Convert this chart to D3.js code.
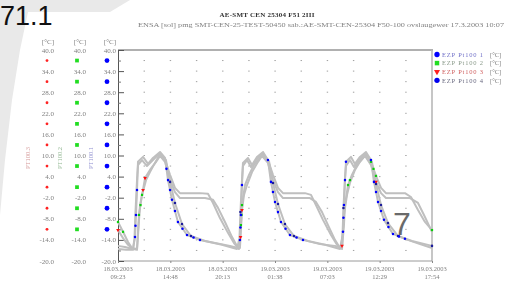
<!DOCTYPE html>
<html>
<head>
<meta charset="utf-8">
<script src="https://cdn.jsdelivr.net/npm/d3@7"></script>
<style>
  body { margin: 0; background: #fff; }
  svg { display: block; }
</style>
</head>
<body>
<div id="chart"></div>
<script>
// titles
const title = "AE-SMT CEN 25304 F51 2III";
const subtitle = "ENSA [sol] pmg SMT-CEN-25-TEST-50450 sab.:AE-SMT-CEN-25304 F50-100 ovslaugewer 17.3.2003 10:07";

// axes (hours since 18.03.2003 09:23, degrees C)
const yTicks = [40, 34, 28, 22, 16, 10, 4, -2, -8, -14, -20];
const xTickHours = [0, 5.42, 10.84, 16.26, 21.68, 27.10, 32.52];
const xDates = ["18.03.2003", "18.03.2003", "18.03.2003", "19.03.2003", "19.03.2003", "19.03.2003", "19.03.2003"];
const xTimes = ["09:23", "14:48", "20:13", "01:38", "07:03", "12:29", "17:54"];
const axisNames = ["PT100.3", "PT100.2", "PT100.1"];
const legendNames = ["EZP Pt100 1", "EZP Pt100 2", "EZP Pt100 3", "EZP Pt100 4"];

// Pt100 1
const s1 = [[0,-15.7],[0.72,-16.0],[1.55,-16.6],[1.76,-13.2],[1.86,-6.9],[1.97,0.2],[2.07,8.2],[2.59,9.6],[3.11,7.6],[3.62,9.3],[4.35,11.0],[4.87,9.3],[5.18,3.0],[5.59,-2.6],[6.21,-8.9],[7.15,-12.6],[8.49,-14.0],[10.05,-14.9],[11.60,-15.7],[12.43,-16.3],
  [12.63,-14.0],[12.73,-6.9],[12.84,1.6],[12.94,7.9],[13.46,9.3],[13.88,7.3],[14.39,9.6],[15.02,11.0],[15.53,8.7],[15.84,2.5],[16.26,-3.2],[16.88,-8.9],[17.81,-12.6],[19.16,-14.0],[20.92,-15.2],[22.47,-15.7],[23.09,-16.3],
  [23.30,-11.7],[23.40,-4.1],[23.51,3.0],[23.61,8.2],[24.13,9.6],[24.54,7.6],[25.06,9.6],[25.68,11.0],[26.20,8.7],[26.51,2.5],[26.93,-3.2],[27.55,-8.3],[28.48,-12.3],[29.72,-13.7],[31.28,-15.2],[32.52,-16.3]];
// Pt100 2
const s2 = [[0,-8.9],[0.52,-11.7],[1.04,-14.6],[1.45,-16.3],[1.97,-16.6],[2.17,-6.9],[2.49,-1.2],[2.90,3.0],[3.31,5.3],[3.83,7.9],[4.35,10.4],[4.87,8.7],[5.39,4.5],[5.90,0.8],[6.42,-0.7],[8.49,-0.7],[9.32,-0.9],[9.84,-3.5],[10.56,-7.8],[11.39,-12.0],[12.01,-14.9],[12.53,-16.6],
  [12.73,-9.8],[12.84,-4.1],[13.15,1.6],[13.57,4.5],[14.08,7.3],[15.02,10.4],[15.53,8.7],[16.05,4.5],[16.57,0.8],[17.09,-0.7],[19.37,-0.7],[19.99,-1.2],[20.50,-4.1],[21.23,-8.3],[22.06,-12.6],[22.68,-15.4],[23.20,-16.6],
  [23.40,-9.8],[23.51,-4.1],[23.82,1.6],[24.23,4.5],[24.75,7.3],[25.68,10.4],[26.20,8.2],[26.72,4.2],[27.24,0.8],[27.75,-0.7],[29.72,-0.7],[30.34,-1.8],[31.07,-5.5],[31.79,-8.9],[32.52,-11.2]];
// Pt100 3
const s3 = [[0,-11.2],[0.52,-13.5],[1.04,-15.4],[1.55,-16.6],[1.97,-16.8],[2.28,-4.1],[2.59,0.2],[2.80,3.6],[3.31,5.9],[3.94,8.2],[4.35,9.9],[4.87,8.2],[5.39,3.0],[5.90,-0.4],[6.42,-2.1],[9.01,-2.1],[9.84,-2.6],[10.36,-4.9],[11.08,-8.9],[11.81,-13.2],[12.43,-16.3],
  [12.63,-16.3],[12.84,-5.5],[13.05,-1.2],[13.36,1.6],[13.88,5.3],[14.50,8.2],[14.91,9.9],[15.53,7.9],[16.05,3.0],[16.57,-0.4],[17.09,-2.1],[19.88,-2.1],[20.50,-3.2],[21.13,-6.1],[21.75,-9.8],[22.47,-14.0],[22.99,-16.3],
  [23.20,-15.7],[23.40,-6.9],[23.72,-1.2],[24.02,2.2],[24.54,5.9],[25.06,8.2],[25.58,9.9],[26.20,7.3],[26.72,2.5],[27.24,-0.7],[27.75,-2.1],[30.24,-2.1],[31.07,-3.5],[31.69,-6.9],[32.52,-11.7]];
// Pt100 4
const s4 = [[0,-16.6],[0.83,-16.8],[1.55,-16.8],[1.71,-13.5],[1.81,-6.1],[1.97,3.0],[2.07,7.3],[2.49,8.7],[3.00,7.0],[3.62,8.7],[4.25,10.4],[4.97,8.7],[5.39,2.5],[5.90,-3.5],[6.63,-9.5],[7.56,-12.9],[9.01,-14.3],[10.77,-15.4],[12.32,-16.6],
  [12.58,-13.5],[12.68,-6.1],[12.84,3.0],[12.94,7.0],[13.36,8.7],[13.77,6.7],[14.29,8.7],[14.91,10.4],[15.64,8.4],[16.05,2.2],[16.57,-3.8],[17.29,-9.5],[18.23,-12.9],[19.68,-14.3],[21.44,-15.4],[22.99,-16.6],
  [23.25,-12.9],[23.35,-4.9],[23.51,3.6],[23.61,7.0],[24.02,8.7],[24.44,6.7],[24.96,8.7],[25.58,10.4],[26.30,8.2],[26.72,1.9],[27.24,-4.1],[27.96,-9.2],[29.00,-12.9],[30.45,-14.3],[32.52,-15.7]];

// samples shown with markers
const s1Marks = [[1.76,-13.2],[1.81,-10.0],[1.86,-6.9],[1.97,0.2],[5.02,6.2],[5.18,3.0],[5.39,0.2],[5.59,-2.6],[5.90,-5.8],[6.21,-8.9],[6.68,-10.8],[7.15,-12.6],[7.82,-13.3],[8.49,-14.0],
  [12.63,-14.0],[12.68,-10.5],[12.73,-6.9],[12.84,1.6],[15.53,8.7],[15.84,2.5],[16.05,-0.4],[16.26,-3.2],[16.57,-6.1],[16.88,-8.9],[17.35,-10.8],[17.81,-12.6],[18.49,-13.3],[19.16,-14.0],
  [23.30,-11.7],[23.35,-7.7],[23.40,-4.1],[23.51,3.0],[23.61,8.2],[26.20,8.7],[26.51,2.5],[26.72,-0.4],[26.93,-3.2],[27.24,-5.8],[27.55,-8.3],[28.01,-10.3],[28.48,-12.3],[29.10,-13.0],[29.72,-13.7]];
const s2Marks = [[0,-8.9],[0.52,-11.7],[2.17,-6.9],[2.33,-4.1],[2.49,-1.2],[12.73,-9.8],[12.79,-6.9],[12.84,-4.1],[23.82,1.6],[24.02,3.0],[26.20,8.2],[26.46,6.2],[26.72,4.2],[32.52,-11.2]];
const s3Marks = [[0,-11.2],[2.59,0.2],[2.80,3.6],[12.69,-13.2],[12.84,-5.5],[23.20,-15.7],[26.72,2.5]];
const s4Marks = [[5.39,2.5],[5.90,-3.5],[6.63,-9.5],[7.56,-12.9],[12.68,-6.1],[16.05,2.2],[16.57,-3.8],[17.29,-9.5],[18.23,-12.9],[23.35,-4.9],[26.72,1.9],[27.24,-4.1],[27.96,-9.2],[29.00,-12.9],[32.52,-15.7]];

const W = 510, H = 281;
const serif = "'Liberation Serif', 'DejaVu Serif', serif";
const grayText = "#808080";

const svg = d3.select("#chart").append("svg")
  .attr("width", W).attr("height", H);

const defs = svg.append("defs");
defs.append("filter").attr("id", "soft")
  .append("feGaussianBlur").attr("stdDeviation", 0.5);

// backdrop of the photographed slide
svg.append("rect").attr("width", W).attr("height", H).attr("fill", "#fff");
svg.append("path")
  .attr("d", "M0,0 L130,0 L110,12 L28,12 L20,50 L12,100 L5,160 L0,215 Z")
  .attr("fill", "#e9e9e9");

const g = svg.append("g").attr("filter", "url(#soft)");

const x = d3.scaleLinear().domain([0, 32.52]).range([118, 432]);
const y = d3.scaleLinear().domain([-20, 40]).range([261, 50]);

// title block
g.append("text").attr("x", 267).attr("y", 17)
  .attr("text-anchor", "middle").attr("font-family", serif)
  .attr("font-size", 7).attr("font-weight", "bold").attr("fill", "#333")
  .attr("textLength", 95).text(title);
g.append("text").attr("x", 138).attr("y", 27)
  .attr("font-family", serif).attr("font-size", 6.5).attr("fill", grayText)
  .attr("textLength", 366).attr("lengthAdjust", "spacingAndGlyphs").text(subtitle);

// dotted grid
const gridX = d3.range(1, 12).map(i => i * 32.52 / 12);
const gridY = d3.range(-17, 40, 3);
const grid = g.append("g");
gridX.forEach(gx => {
  grid.selectAll(null).data(gridY).enter().append("rect")
    .attr("x", x(gx) - 0.6).attr("y", d => y(d) - 0.5)
    .attr("width", 1.4).attr("height", 1).attr("fill", "#a0a0a0");
});

// frame
g.append("line").attr("x1", 118).attr("x2", 433).attr("y1", 50).attr("y2", 50)
  .attr("stroke", "#b0b0b0").attr("stroke-width", 2);
g.append("line").attr("x1", 432).attr("x2", 432).attr("y1", 50).attr("y2", 261)
  .attr("stroke", "#b8b8b8").attr("stroke-width", 1.6);
g.append("line").attr("x1", 118).attr("x2", 432).attr("y1", 261).attr("y2", 261)
  .attr("stroke", "#9a9a9a").attr("stroke-width", 1);

// y axis with ticks pointing inwards
g.append("g").attr("transform", "translate(118,0)")
  .call(d3.axisRight(y).tickValues(yTicks).tickSize(6).tickFormat(""))
  .call(a => a.select(".domain").attr("stroke", "#555"))
  .call(a => a.selectAll(".tick line").attr("stroke", "#555"));
g.append("g").attr("transform", "translate(118,0)")
  .call(d3.axisRight(y).tickValues(d3.range(-17, 40, 6)).tickSize(3).tickFormat(""))
  .call(a => a.select(".domain").remove())
  .call(a => a.selectAll(".tick line").attr("stroke", "#777"));

// x axis labels
const xa = g.append("g").attr("transform", "translate(0,261)")
  .call(d3.axisBottom(x).tickValues(xTickHours).tickSize(2).tickFormat(""));
xa.select(".domain").remove();
xa.selectAll(".tick line").attr("stroke", "#888");
xTickHours.forEach((h, i) => {
  g.append("text").attr("x", x(h)).attr("y", 270.5).attr("text-anchor", "middle")
    .attr("font-family", serif).attr("font-size", 6.5).attr("fill", grayText)
    .text(xDates[i]);
  g.append("text").attr("x", x(h)).attr("y", 279).attr("text-anchor", "middle")
    .attr("font-family", serif).attr("font-size", 6.5).attr("fill", grayText)
    .text(xTimes[i]);
});

// three value columns on the left (Pt100 3, 2, 1)
const cols = [
  { right: 54, dot: 47, name: axisNames[0], color: "#ff2020", tcolor: "#d59a9a", sym: d3.symbolCircle, size: 6 },
  { right: 86, dot: 77, name: axisNames[1], color: "#22dd22", tcolor: "#93b893", sym: d3.symbolSquare, size: 14 },
  { right: 116, dot: 107, name: axisNames[2], color: "#0000ff", tcolor: "#8f8fd0", sym: d3.symbolCircle, size: 18 }
];
cols.forEach((c, ci) => {
  g.append("text").attr("x", c.right).attr("y", 44).attr("text-anchor", "end")
    .attr("font-family", serif).attr("font-size", 7).attr("fill", grayText).text("[°C]");
  g.selectAll(null).data(yTicks).enter().append("text")
    .attr("x", c.right).attr("y", d => y(d) + 2.5).attr("text-anchor", "end")
    .attr("font-family", serif).attr("font-size", 7).attr("fill", grayText)
    .text(d => d.toFixed(1));
  g.selectAll(null).data(d3.range(37, -12, -6)).enter().append("path")
    .attr("d", d3.symbol(c.sym, c.size))
    .attr("transform", d => `translate(${c.dot},${y(d)})`)
    .attr("fill", c.color);
  g.append("text")
    .attr("transform", `translate(${[30, 62, 93][ci]},158) rotate(-90)`)
    .attr("text-anchor", "middle").attr("font-family", serif)
    .attr("font-size", 6.5).attr("fill", c.tcolor).text(c.name);
});

// curves
const line = d3.line().x(d => x(d[0])).y(d => y(d[1]));
const series = [
  { data: s2, marks: s2Marks, color: "#11cc11", sym: d3.symbolSquare, size: 5, rot: 0 },
  { data: s3, marks: s3Marks, color: "#ff1010", sym: d3.symbolTriangle, size: 6, rot: 180 },
  { data: s4, marks: s4Marks, color: "#1a1a9a", sym: d3.symbolCircle, size: 5, rot: 0 },
  { data: s1, marks: s1Marks, color: "#0000ff", sym: d3.symbolCircle, size: 5, rot: 0 }
];
series.forEach(s => {
  g.append("path").datum(s.data).attr("d", line)
    .attr("fill", "none").attr("stroke", "#bfbfbf").attr("stroke-width", 2)
    .attr("stroke-linejoin", "round");
});
series.forEach(s => {
  g.selectAll(null).data(s.marks).enter().append("path")
    .attr("d", d3.symbol(s.sym, s.size))
    .attr("transform", d => `translate(${x(d[0])},${y(d[1])}) rotate(${s.rot})`)
    .attr("fill", s.color);
});

// legend
const legend = [
  { color: "#0000ff", sym: d3.symbolCircle, size: 22, rot: 0, tcolor: "#7070c8" },
  { color: "#22dd22", sym: d3.symbolSquare, size: 20, rot: 0, tcolor: "#8a9a8a" },
  { color: "#ff2020", sym: d3.symbolTriangle, size: 16, rot: 180, tcolor: "#d06060" },
  { color: "#0000ee", sym: d3.symbolCircle, size: 22, rot: 0, tcolor: "#6a6a80" }
];
legend.forEach((l, i) => {
  const ly = 54.5 + i * 8.6;
  g.append("path").attr("d", d3.symbol(l.sym, l.size))
    .attr("transform", `translate(437,${ly}) rotate(${l.rot})`).attr("fill", l.color);
  g.append("text").attr("x", 442).attr("y", ly + 2.3)
    .attr("font-family", serif).attr("font-size", 6.5).attr("fill", l.tcolor)
    .attr("textLength", 41).text(legendNames[i]);
  g.append("text").attr("x", 490).attr("y", ly + 2.3)
    .attr("font-family", serif).attr("font-size", 6.5).attr("fill", grayText).text("[°C]");
});

// slide numbers over the photo
svg.append("text").attr("x", 0).attr("y", 25)
  .attr("font-family", "'Liberation Sans', Arial, sans-serif").attr("font-size", 27)
  .attr("fill", "#111").text("71.1");
svg.append("text").attr("x", 393).attr("y", 235)
  .attr("font-family", "'Liberation Sans', Arial, sans-serif").attr("font-size", 32)
  .attr("fill", "#6a6a6a").text("7");
</script>
</body>
</html>
